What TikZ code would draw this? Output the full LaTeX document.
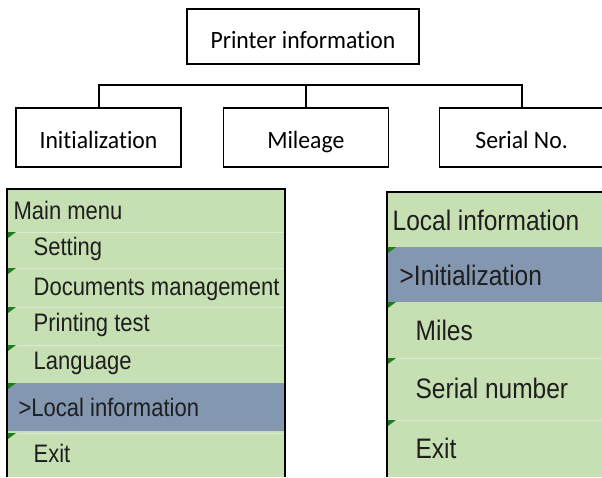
\documentclass[tikz,border=0pt]{standalone}
\usepackage{fontspec}
\newfontfamily\boxfont[Ligatures=NoCommon]{Carlito}
\newfontfamily\panelfont{Liberation Sans}
\usetikzlibrary{positioning}
\definecolor{cpanel}{HTML}{C6E0B4}
\definecolor{cband}{HTML}{8497B0}
\definecolor{cflag}{HTML}{1E7B1E}
\definecolor{ctext}{HTML}{1E1E1E}
\definecolor{csep}{HTML}{DDEBD3}
\newcommand{\tall}[2][1.15]{\scalebox{1}[#1]{#2}}
\tikzset{
  every picture/.style={line width=1.3pt},
  box/.style={draw, minimum width=165pt, minimum height=59pt, inner sep=0pt,
    text height=21pt, text depth=0pt, font=\boxfont\fontsize{23.7}{28}\selectfont},
  bus/.style={line width=2pt},
  lmenu/.style={anchor=west, inner sep=0pt, text=ctext, font=\panelfont\fontsize{22}{26}\selectfont},
  rmenu/.style={lmenu, font=\panelfont\fontsize{24.5}{28}\selectfont},
  sep/.style={draw=csep, line width=1pt},
  frame/.style={line width=1.5pt},
}
\begin{document}
\begin{tikzpicture}[x=1pt, y=-1pt]
  \useasboundingbox (0,0) rectangle (602,477);
  % tree of boxes
  \node[box, minimum width=232pt, minimum height=55pt, text height=24pt] (printer) at (303,36.5) {\tall[1.05]{Printer information}};
  \node[box] (init) at (98.5,137.5) {\tall[1.05]{Initialization}};
  \node[box, right=41pt of init] (mileage) {\tall[1.05]{Mileage}};
  \node[box, right=50pt of mileage, minimum width=164pt] (serial) {\tall[1.05]{Serial No.}};
  \coordinate (bus) at (0,85);
  \draw[bus] (init.north) -- (init.north |- bus) -| (serial.north);
  \draw[bus] (mileage.north) -- (mileage.north |- bus);
  % main menu screen
  \fill[cpanel] (7,189) rectangle (285,477);
  \fill[cband] (7,383) rectangle (285,431);
  \foreach \y in {232,268,307,345,433}
    \draw[sep] (7,\y) -- (285,\y);
  \foreach \y in {232,268,307,345,383,433}
    \fill[cflag] (8,\y) -- ++(8,0) -- ++(-8,6) -- cycle;
  \draw[frame] (7,477) -- (7,189) -- (285,189) -- (285,477);
  \node[lmenu] (mainmenu) at (13,210) {\tall{Main menu}};
  \node[lmenu] (setting) at (33,249) {\tall{Setting}};
  \node[lmenu] (docs) at (33,289) {\tall{Documents management}};
  \node[lmenu] (printtest) at (33,325) {\tall{Printing test}};
  \node[lmenu] (lang) at (33,363) {\tall{Language}};
  \node[lmenu] (localinfo) at (18,407) {\tall{>Local information}};
  \node[lmenu] (exitmain) at (33,453) {\tall{Exit}};
  % local information screen
  \fill[cpanel] (387,192) rectangle (602,477);
  \fill[cband] (387,247) rectangle (602,302);
  \foreach \y in {358,420}
    \draw[sep] (387,\y) -- (602,\y);
  \foreach \y in {247,302,358,420}
    \fill[cflag] (388,\y) -- ++(8,0) -- ++(-8,6) -- cycle;
  \draw[frame] (387,477) -- (387,192) -- (602,192);
  \node[rmenu] (localhead) at (392,220) {\tall{Local information}};
  \node[rmenu] (initsel) at (399,275) {\tall{>Initialization}};
  \node[rmenu] (miles) at (415,330) {\tall{Miles}};
  \node[rmenu] (serialnum) at (415,388) {\tall{Serial number}};
  \node[rmenu] (exitlocal) at (415,448) {\tall{Exit}};
\end{tikzpicture}
\end{document}
